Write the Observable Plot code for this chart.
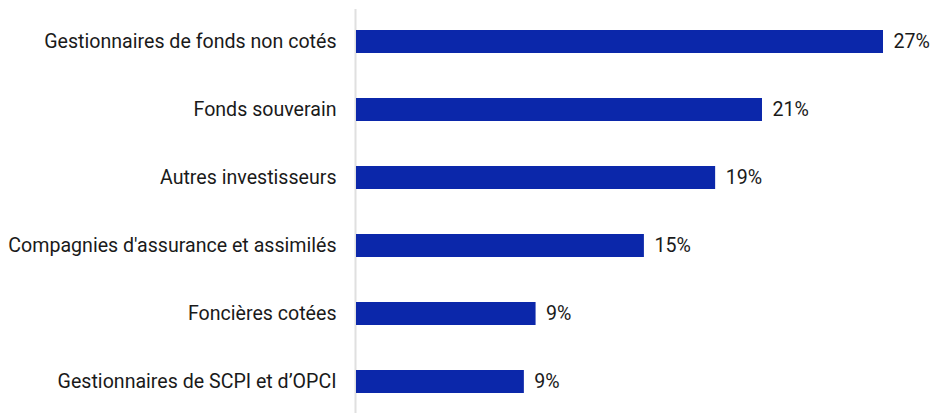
<!DOCTYPE html>
<html>
<head>
<meta charset="utf-8">
<script src="https://cdn.jsdelivr.net/npm/d3@7"></script>
<script src="https://cdn.jsdelivr.net/npm/@observablehq/plot@0.6"></script>
<style>
  html, body { margin: 0; padding: 0; background: #fff; }
  #chart svg { display: block; }
</style>
</head>
<body>
<div id="chart"></div>
<script>
const categories = [
  "Gestionnaires de fonds non cotés",
  "Fonds souverain",
  "Autres investisseurs",
  "Compagnies d'assurance et assimilés",
  "Foncières cotées",
  "Gestionnaires de SCPI et d’OPCI"
];
const values = [27.0, 20.8, 18.4, 14.75, 9.2, 8.6];
const valueLabels = ["27%", "21%", "19%", "15%", "9%", "9%"];

const data = categories.map((c, i) => ({ category: c, value: values[i], label: valueLabels[i] }));

const chart = Plot.plot({
  width: 930,
  height: 413,
  marginLeft: 356,
  marginRight: 47,
  marginTop: 9,
  marginBottom: 0,
  style: { fontFamily: "Roboto, sans-serif", fontSize: "19.6px", color: "#1a1a1a", background: "#fff" },
  x: { domain: [0, 27.0], axis: null },
  y: { domain: categories, range: [8, 416], paddingInner: 0.66, paddingOuter: 0.33, label: null, tickSize: 0, tickPadding: 20 },
  marks: [
    Plot.ruleX([0], { stroke: "#e0e0e0", strokeWidth: 2, dx: -1 }),
    Plot.barX(data, { x: "value", y: "category", fill: "#0b27aa" }),
    Plot.text(data, { x: "value", y: "category", text: "label", textAnchor: "start", dx: 10, fill: "#1a1a1a", fontSize: 19.6 }),
    Plot.axisY({ tickSize: 0, tickPadding: 20, fontSize: 19.6, label: null, fill: "#1a1a1a" })
  ]
});
document.getElementById("chart").appendChild(chart);
</script>
</body>
</html>
